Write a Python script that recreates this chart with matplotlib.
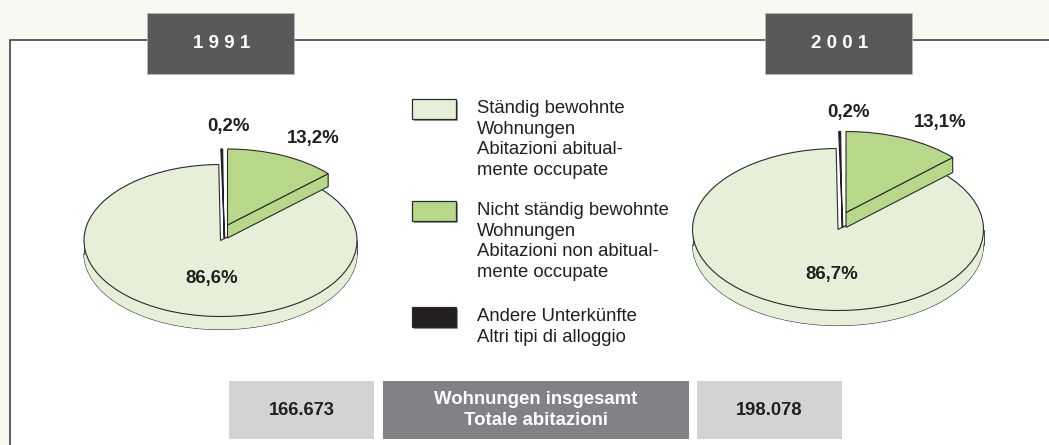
import numpy as np
import matplotlib
matplotlib.use("Agg")
import matplotlib.pyplot as plt
from matplotlib.patches import Polygon, Rectangle, Wedge
from matplotlib.transforms import Affine2D

plt.rcParams["font.family"] = ["Liberation Sans", "DejaVu Sans"]

# shares in percent, clockwise from 12 o'clock
shares_1991 = [13.2, 86.6, 0.2]
shares_2001 = [13.1, 86.7, 0.2]
share_labels_1991 = ["13,2%", "86,6%", "0,2%"]
share_labels_2001 = ["13,1%", "86,7%", "0,2%"]
years = ["1 9 9 1", "2 0 0 1"]
totals = ["166.673", "198.078"]
total_label = "Wohnungen insgesamt\nTotale abitazioni"
legend_labels = [
    "Ständig bewohnte\nWohnungen\nAbitazioni abitual-\nmente occupate",
    "Nicht ständig bewohnte\nWohnungen\nAbitazioni non abitual-\nmente occupate",
    "Andere Unterkünfte\nAltri tipi di alloggio",
]

PAGE = "#f7faf0"
PALE = "#e6f0d8"
GREEN = "#b7d888"
BLACK = "#231f20"
DARK = "#58595b"
MID = "#808285"
LIGHT = "#d1d3d4"
LINE = "#2b2b2b"

fig = plt.figure(figsize=(10.49, 4.45), dpi=100, facecolor=PAGE)
ax = fig.add_axes([0, 0, 1, 1])
ax.set_xlim(0, 1049)
ax.set_ylim(445, 0)
ax.axis("off")

# white panel with its frame line on top and left
ax.add_patch(Rectangle((9, 40), 1045, 410, fc="white", ec="none", zorder=1))
ax.plot([9.5, 9.5, 1049], [445, 40, 40], color="#333333", lw=1.1, zorder=2, solid_joinstyle="miter")


def wedge(cx, cy, rx, ry, t1, t2, color, z, lw=0.8):
    tr = Affine2D().scale(rx, -ry).translate(cx, cy) + ax.transData
    ax.add_patch(Wedge((0, 0), 1, t1, t2, transform=tr, fc=color, ec=LINE, lw=lw, zorder=z))


def point(cx, cy, rx, ry, t):
    a = np.radians(t)
    return cx + rx * np.cos(a), cy - ry * np.sin(a)


def pie3d(cx, cy, rx, ry, depth, shares, explode_green, explode_black):
    deg = np.array(shares) / 100 * 360
    g1, g2 = 90 - deg[0], 90
    m1, m2 = 90 - deg[0] - deg[1], 90 - deg[0]
    b1, b2 = m1, m1 + deg[2]

    # main slice: lower rim, wall, then the top face
    t = np.linspace(180, 360, 90)
    xs, ys = point(cx, cy, rx, ry, t)
    wall = np.column_stack([np.r_[xs, xs[::-1]], np.r_[ys + depth, ys[::-1]]])
    wedge(cx, cy + depth, rx, ry, 180, 360, PALE, 3)
    ax.add_patch(Polygon(wall, fc=PALE, ec="none", zorder=3))
    ax.plot([cx - rx, cx - rx], [cy, cy + depth], color=LINE, lw=0.6, zorder=3)
    ax.plot([cx + rx, cx + rx], [cy, cy + depth], color=LINE, lw=0.6, zorder=3)
    wedge(cx, cy, rx, ry, m1, m2 + 360, PALE, 4)

    # black sliver stands free, its wall runs down to the pie centre
    bx, by = cx + explode_black[0], cy + explode_black[1]
    x1, y1 = point(bx, by, rx, ry, b1)
    x2, y2 = point(bx, by, rx, ry, b2)
    ax.add_patch(Polygon([(x1, y1), (x2, y2), (bx + 0.4, by + depth), (bx - 0.4, by + depth)],
                         fc=BLACK, ec=BLACK, lw=0.9, zorder=5))

    # green slice with its cut wall
    gx, gy = cx + explode_green[0], cy + explode_green[1]
    tx, ty = point(gx, gy, rx, ry, g1)
    ax.add_patch(Polygon([(gx, gy), (tx, ty), (tx, ty + depth), (gx, gy + depth)],
                         fc=GREEN, ec=LINE, lw=0.8, zorder=6))
    wedge(gx, gy, rx, ry, g1, g2, GREEN, 7)


pie3d(220.5, 240.5, 136.5, 76, 13, shares_1991, (7, -15.5), (3.8, -15.5))
pie3d(838, 229.5, 145.5, 81, 15, shares_2001, (8, -17), (4.4, -17))

for (x, y), s in zip([(313, 138), (212, 279), (229, 126)], share_labels_1991):
    ax.text(x, y, s, fontsize=13.4, fontweight="bold", color=BLACK, ha="center", va="center", zorder=8)
for (x, y), s in zip([(940, 123), (832, 275), (848, 113)], share_labels_2001):
    ax.text(x, y, s, fontsize=13.4, fontweight="bold", color=BLACK, ha="center", va="center", zorder=8)

# year tabs
for x, s in zip([147, 765], years):
    ax.add_patch(Rectangle((x, 13), 147, 61, fc=DARK, ec="#b5b6b8", lw=0.6, zorder=5))
    ax.text(x + 75, 43.5, s, color="white", fontsize=13.5, fontweight="bold", ha="center", va="center", zorder=6)

# legend
for y, c, s in zip([99, 201, 307], [PALE, GREEN, BLACK], legend_labels):
    ax.add_patch(Rectangle((414, y + 2), 44, 20, fc="#9a9a9a", ec="none", zorder=3))
    ax.add_patch(Rectangle((412, y), 44, 20, fc=c, ec=LINE, lw=0.9, zorder=4))
    ax.text(477, y + 1, s, fontsize=13.3, color=BLACK, ha="left", va="top", linespacing=1.28, zorder=4)

# totals strip
ax.add_patch(Rectangle((229, 381), 145, 58, fc=LIGHT, ec="none", zorder=3))
ax.add_patch(Rectangle((383, 381), 306, 58, fc=MID, ec="none", zorder=3))
ax.add_patch(Rectangle((697, 381), 145, 58, fc=LIGHT, ec="none", zorder=3))
ax.text(301.5, 410.5, totals[0], fontsize=13.2, fontweight="bold", color=BLACK, ha="center", va="center", zorder=4)
ax.text(769.5, 410.5, totals[1], fontsize=13.2, fontweight="bold", color=BLACK, ha="center", va="center", zorder=4)
ax.text(536, 410, total_label, fontsize=13.4, fontweight="bold", color="white", ha="center", va="center", linespacing=1.25, zorder=4)

fig.savefig("out.png", dpi=100, facecolor=PAGE)
